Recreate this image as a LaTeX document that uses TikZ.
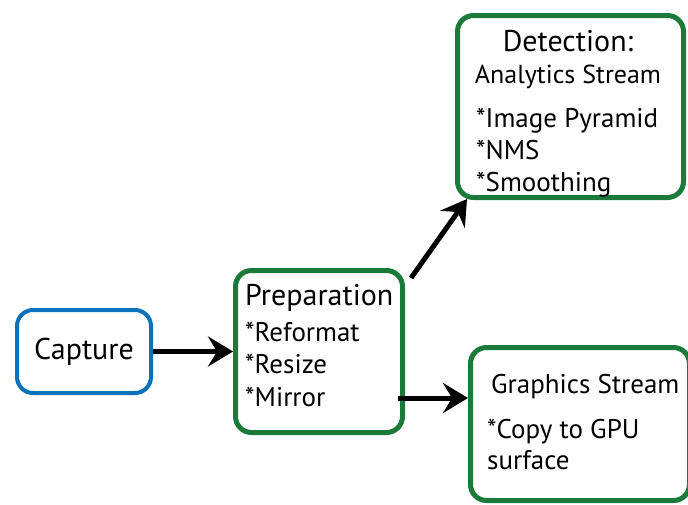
\documentclass[tikz,border=0pt]{standalone}
\usepackage{fontspec}
\setmainfont{PT Sans}
\usetikzlibrary{arrows.meta}
\definecolor{capblue}{RGB}{10,114,186}
\definecolor{boxgreen}{RGB}{27,122,58}
\begin{document}
\begin{tikzpicture}[x=1pt,y=-1pt,
box/.style={draw=boxgreen,line width=5pt,rounded corners=16pt,fill=white,inner sep=0pt},
title/.style={anchor=base west,inner sep=0pt,font=\fontsize{30}{36}\selectfont},
sub/.style={anchor=base west,inner sep=0pt,font=\fontsize{26}{31}\selectfont},
item/.style={anchor=base west,inner sep=0pt,font=\fontsize{27}{32}\selectfont},
flow/.style={line width=5pt,-{Stealth[length=25pt,width=30pt,inset=9pt]}}]
\useasboundingbox (0,0) rectangle (688,504);
\node[box,draw=capblue,line width=4pt,minimum width=134pt,minimum height=83pt,font=\fontsize{30}{36}\selectfont] (cap) at (84,351.5) {Capture};
\node[box,minimum width=167pt,minimum height=162pt] (prep) at (319,351.5) {};
\node[box,minimum width=226pt,minimum height=182pt] (det) at (570.5,106.5) {};
\node[box,minimum width=219pt,minimum height=153pt] (gfx) at (580,424) {};
\node[title] (preptitle) at (245,305) {Preparation};
\node[item] (prep1) at (245,341) {*Reformat};
\node[item] (prep2) at (245,373) {*Resize};
\node[item] (prep3) at (245,406) {*Mirror};
\node[title,anchor=base] (dettitle) at (568,51) {Detection:};
\node[sub,anchor=base] (detsub) at (568,83) {Analytics Stream};
\node[item] (det1) at (476,127) {*Image Pyramid};
\node[item] (det2) at (476,159) {*NMS};
\node[item] (det3) at (476,191) {*Smoothing};
\node[sub,font=\fontsize{27}{32}\selectfont] (gfxtitle) at (491,393) {Graphics Stream};
\node[item] (gfx1) at (487,438) {*Copy to GPU};
\node[item] (gfx2) at (487,469) {surface};
\draw[flow] (cap.east) -- (prep.west);
\draw[flow] ([xshift=6pt,yshift=-10pt]prep.north east) -- ([xshift=12pt,yshift=1pt]det.south west);
\draw[flow] ([xshift=-7pt,yshift=-46.5pt]prep.east) coordinate (m) -- (m -| gfx.west);
\end{tikzpicture}
\end{document}
